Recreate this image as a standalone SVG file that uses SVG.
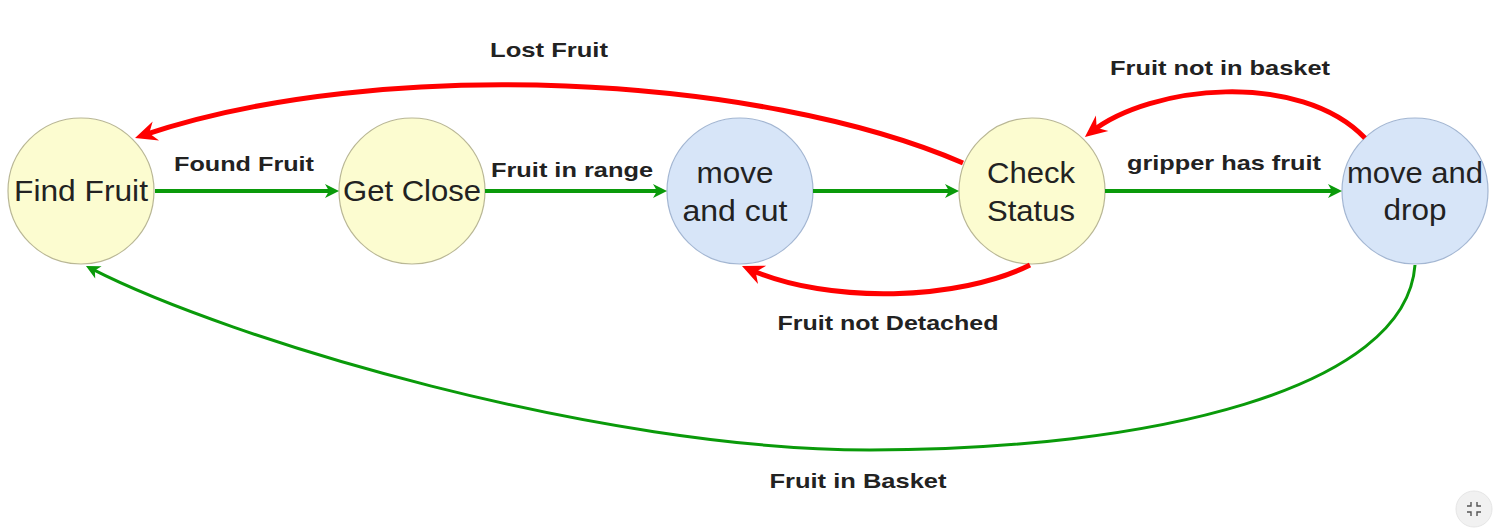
<svg xmlns="http://www.w3.org/2000/svg" width="1506" height="530" viewBox="0 0 1506 530">
  <style>
    .yel { fill: #fcfcd0; stroke: #b9b795; stroke-width: 1.2; }
    .blu { fill: #d7e5f8; stroke: #a3b6d2; stroke-width: 1.2; }
    .nt { font-family: "Liberation Sans", Arial, sans-serif; font-size: 29px; fill: #222; text-anchor: middle; }
    .et { font-family: "Liberation Sans", Arial, sans-serif; font-size: 21px; font-weight: bold; fill: #222; text-anchor: middle; }
    .red { fill: none; stroke: #ff0000; stroke-width: 5; marker-end: url(#ar); }
    .grn { fill: none; stroke: #0a9a0a; stroke-width: 4; marker-end: url(#ag); }
    .grn3 { fill: none; stroke: #0a9a0a; stroke-width: 3; marker-end: url(#ag); }
  </style>
  <defs>
    <marker id="ar" markerUnits="userSpaceOnUse" viewBox="-24 -11 25 22" refX="-8" refY="0" markerWidth="25" markerHeight="22" orient="auto">
      <path d="M0,0 L-22,-10 L-15,0 L-22,10 Z" fill="#ff0000"/>
    </marker>
    <marker id="ag" markerUnits="userSpaceOnUse" viewBox="-16 -9 17 18" refX="-6" refY="0" markerWidth="17" markerHeight="18" orient="auto">
      <path d="M0,0 L-14,-7 L-10,0 L-14,7 Z" fill="#0a9a0a"/>
    </marker>
  </defs>
  <rect width="1506" height="530" fill="#ffffff"/>

  <g id="find-fruit">
    <circle class="yel" cx="81" cy="191" r="73"/>
    <text class="nt" x="81" y="201" textLength="134" lengthAdjust="spacingAndGlyphs">Find Fruit</text>
  </g>
  <g id="get-close">
    <circle class="yel" cx="412" cy="191" r="73"/>
    <text class="nt" x="412" y="201" textLength="138" lengthAdjust="spacingAndGlyphs">Get Close</text>
  </g>
  <g id="move-and-cut">
    <circle class="blu" cx="740" cy="191" r="73"/>
    <text class="nt" x="735" y="183" textLength="77" lengthAdjust="spacingAndGlyphs">move</text>
    <text class="nt" x="735" y="221" textLength="105" lengthAdjust="spacingAndGlyphs">and cut</text>
  </g>
  <g id="check-status">
    <circle class="yel" cx="1032" cy="191" r="73"/>
    <text class="nt" x="1031" y="183" textLength="88" lengthAdjust="spacingAndGlyphs">Check</text>
    <text class="nt" x="1031" y="221" textLength="88" lengthAdjust="spacingAndGlyphs">Status</text>
  </g>
  <g id="move-and-drop">
    <circle class="blu" cx="1415" cy="191" r="73"/>
    <text class="nt" x="1415" y="183" textLength="136" lengthAdjust="spacingAndGlyphs">move and</text>
    <text class="nt" x="1415" y="220" textLength="63" lengthAdjust="spacingAndGlyphs">drop</text>
  </g>

  <g id="connectors">
    <path class="grn" d="M155,191 L333,191"/>
    <path class="grn" d="M485,191 L661,191"/>
    <path class="grn" d="M813,191 L953,191"/>
    <path class="grn" d="M1105,191 L1336,191"/>
    <path class="red" d="M963,163 C760,75 380,55 142.6,135.4"/>
    <path class="red" d="M1365,138 C1300,70 1150,85 1091.2,132"/>
    <path class="red" d="M1030,265 C960,300 830,305 749.3,269.2"/>
    <path class="grn3" d="M1415,265 C1406,390 1150,450 870,450 C600,450 230,340 91.3,268.7"/>
  </g>

  <g id="edge-labels">
    <text class="et" x="549" y="57" textLength="118" lengthAdjust="spacingAndGlyphs">Lost Fruit</text>
    <text class="et" x="244" y="171" textLength="140" lengthAdjust="spacingAndGlyphs">Found Fruit</text>
    <text class="et" x="572" y="177" textLength="162" lengthAdjust="spacingAndGlyphs">Fruit in range</text>
    <text class="et" x="1224" y="170" textLength="194" lengthAdjust="spacingAndGlyphs">gripper has fruit</text>
    <text class="et" x="1220" y="75" textLength="220" lengthAdjust="spacingAndGlyphs">Fruit not in basket</text>
    <text class="et" x="888" y="330" textLength="221" lengthAdjust="spacingAndGlyphs">Fruit not Detached</text>
    <text class="et" x="858" y="488" textLength="177" lengthAdjust="spacingAndGlyphs">Fruit in Basket</text>
  </g>

  <g id="ui-button">
    <circle cx="1474" cy="509" r="18" fill="#f1f1f1" stroke="#e6e6e6" stroke-width="1"/>
    <g fill="none" stroke="#555" stroke-width="1.4">
      <path d="M1471,502 L1471,506 L1467,506"/>
      <path d="M1477,502 L1477,506 L1481,506"/>
      <path d="M1471,516 L1471,512 L1467,512"/>
      <path d="M1477,516 L1477,512 L1481,512"/>
    </g>
  </g>
</svg>
